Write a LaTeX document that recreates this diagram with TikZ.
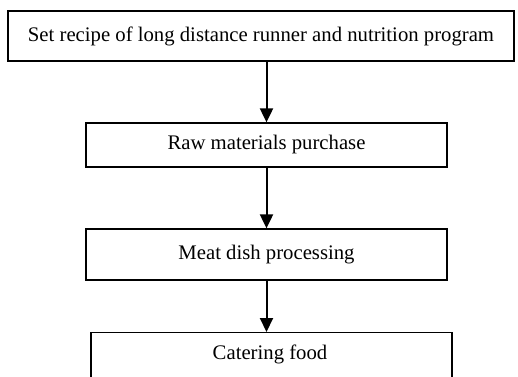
\documentclass[tikz,border=0pt]{standalone}
\usepackage{fontspec}
\setmainfont{Liberation Serif}
\usetikzlibrary{arrows.meta}
\begin{document}
\begin{tikzpicture}[x=1bp,y=-1bp,
  box/.style={draw=black,line width=1.3bp,fill=white,inner sep=0pt,font=\fontsize{20.8}{24}\selectfont,text=black},
  flow/.style={draw=black,line width=2bp,-{Triangle[width=13bp,length=14bp]}}]
\useasboundingbox (0,0) rectangle (518,376);
\clip (0,0) rectangle (518,376);
\node[box,minimum width=506bp,minimum height=50bp] (b1) at (261,36) {Set recipe of long distance runner and nutrition program};
\node[box,minimum width=361bp,minimum height=44bp] (b2) at (266.5,145) {Raw materials purchase};
\node[box,minimum width=361bp,minimum height=51bp] (b3) at (266.5,254.5) {Meat dish processing};
\node[box,minimum width=361bp,minimum height=50bp,anchor=north] (b4) at (271.5,332) {};
\node[font=\fontsize{20.8}{24}\selectfont,text=black] (t4) at (270,354) {Catering food};
\draw[flow] (b1.south -| b2.north) -- (b2.north);
\draw[flow] (b2.south) -- (b3.north);
\draw[flow] (b3.south) -- (b3.south |- b4.north);
\end{tikzpicture}
\end{document}
